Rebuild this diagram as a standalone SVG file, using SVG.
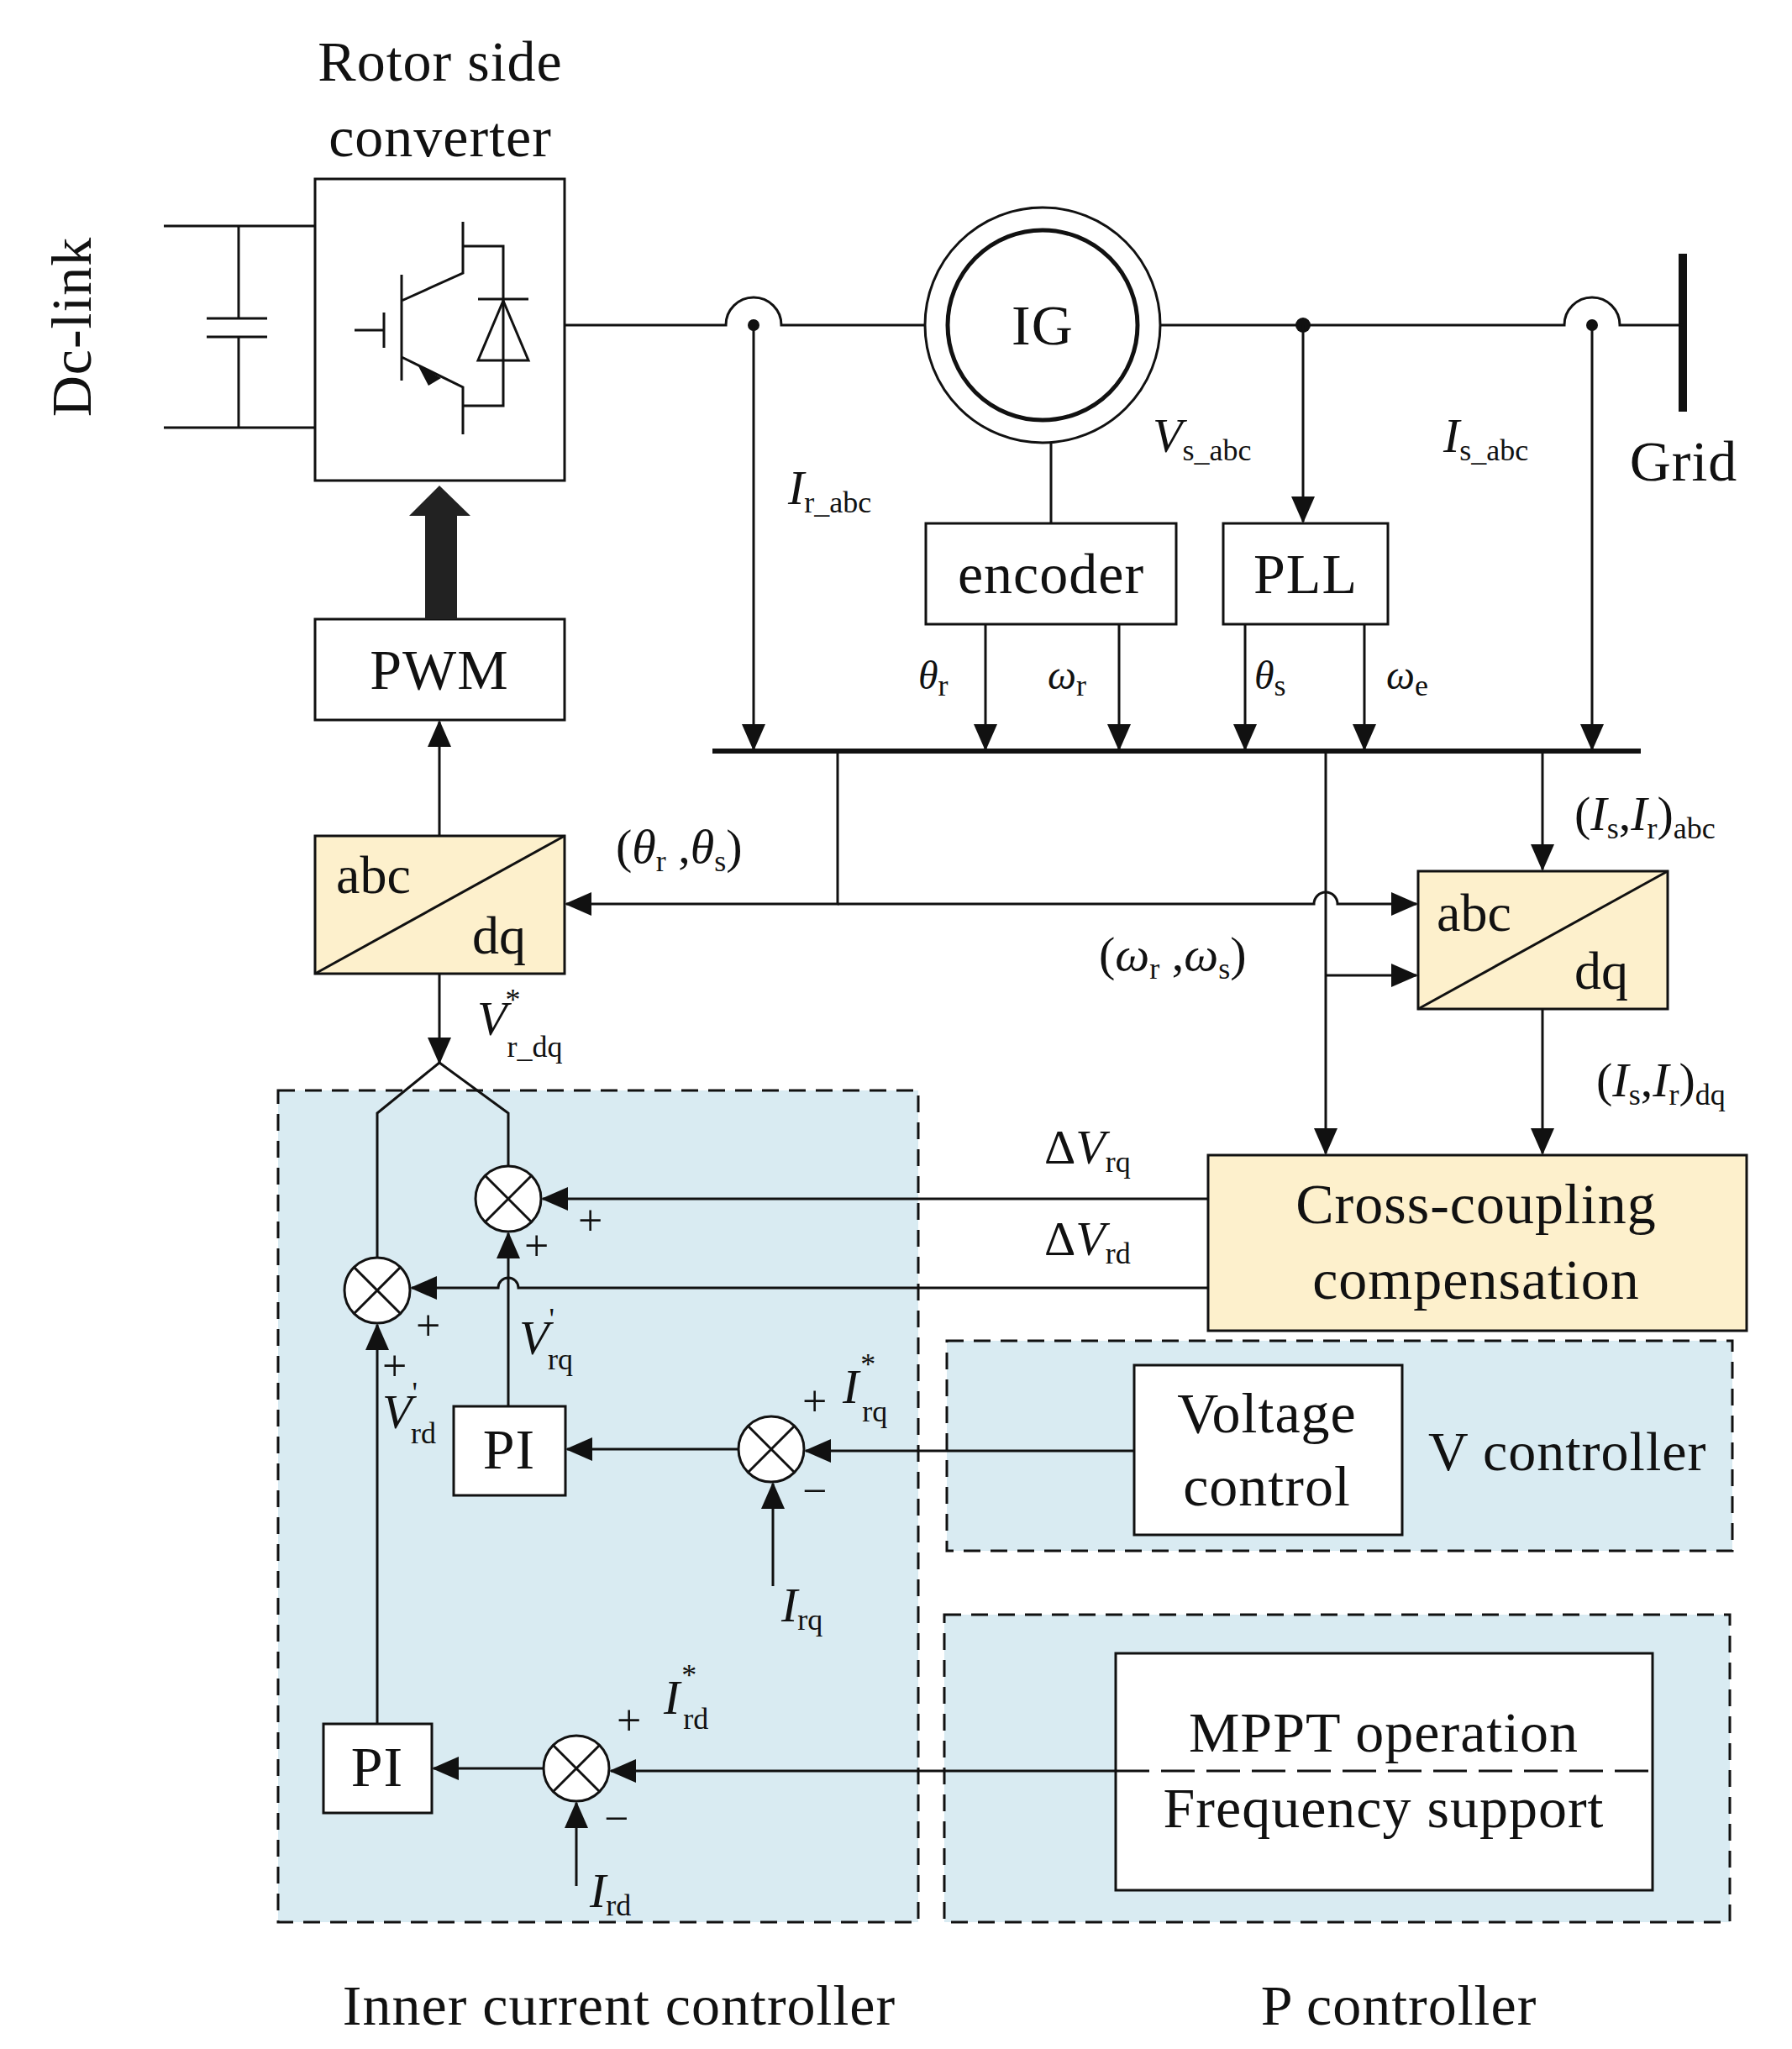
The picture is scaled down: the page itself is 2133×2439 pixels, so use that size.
<svg xmlns="http://www.w3.org/2000/svg" width="2133" height="2439" viewBox="0 0 2133 2439">
<style>
text{font-family:"Liberation Serif","Times New Roman",serif;fill:#111}
.t{font-size:68px;text-anchor:middle;letter-spacing:1px}
.l{font-size:58px}
.s{font-size:36px}
.i{font-style:italic}
.ln{fill:none;stroke:#111;stroke-width:3}
.bx{fill:#fff;stroke:#111;stroke-width:3}
.yb{fill:#fdf0cc;stroke:#111;stroke-width:3}
.dash{fill:#d9ebf2;stroke:#111;stroke-width:3;stroke-dasharray:20 12}
.a{fill:none;stroke:#111;stroke-width:3;marker-end:url(#ah)}
.pm{font-size:52px}
</style>
<defs>
<marker id="ah" markerUnits="userSpaceOnUse" markerWidth="32" markerHeight="28" refX="30" refY="14" orient="auto"><path d="M0,0 L32,14 L0,28 Z" fill="#111"/></marker>
</defs>
<rect width="2133" height="2439" fill="#fff"/>

<g id="inner-ctrl"><rect class="dash" x="331" y="1298" width="762" height="990"/></g>
<g id="v-ctrl"><rect class="dash" x="1127" y="1596" width="935" height="250"/><text x="1700" y="1750" font-size="66" letter-spacing="1">V controller</text></g>
<g id="p-ctrl"><rect class="dash" x="1124" y="1922" width="935" height="366"/></g>

<g id="dclink">
<text class="t" transform="translate(108,389) rotate(-90)">Dc-link</text>
<path class="ln" d="M195,269 H375 M195,509 H375 M284,269 V379 M284,401 V509 M246,379 H318 M246,401 H318"/>
</g>

<g id="rsc">
<text class="t" x="524" y="96">Rotor side</text>
<text class="t" x="524" y="186">converter</text>
<rect class="bx" x="375" y="213" width="297" height="359"/>
<path class="ln" d="M422,393 H457 M457,372 V414 M478,327 V453 M478,358 L551,325 V264 M478,425 L551,461 V517 M551,293 H599 V483 H551 M569,356 H629"/>
<path d="M569,429 L629,429 L599,358 Z" fill="none" stroke="#111" stroke-width="3"/>
<path d="M497,434 L525,450 L510,459 Z" fill="#111"/>
</g>

<g id="pwm"><rect class="bx" x="375" y="737" width="297" height="120"/><text class="t" x="523" y="820">PWM</text></g>
<path d="M506,737 V614 H487 L523,578 L560,614 H544 V737 Z" fill="#222"/>

<g id="abcdq-left"><rect class="yb" x="375" y="995" width="297" height="164"/><path class="ln" d="M375,1159 L672,995"/><text x="400" y="1063" font-size="64">abc</text><text x="562" y="1135" font-size="64">dq</text></g>

<g id="ig"><circle cx="1241" cy="387" r="140" fill="#fff" stroke="#111" stroke-width="3"/><circle cx="1241" cy="387" r="113" fill="#fff" stroke="#111" stroke-width="5"/><text class="t" x="1241" y="410">IG</text></g>
<g id="encoder"><rect class="bx" x="1102" y="623" width="298" height="120"/><text class="t" x="1251" y="706">encoder</text></g>
<g id="pll"><rect class="bx" x="1456" y="623" width="196" height="120"/><text class="t" x="1554" y="706">PLL</text></g>
<g id="grid"><path d="M2003,302 V490" stroke="#111" stroke-width="10"/><text class="t" x="2004" y="572">Grid</text></g>

<g id="abcdq-right"><rect class="yb" x="1688" y="1037" width="297" height="164"/><path class="ln" d="M1688,1201 L1985,1037"/><text x="1710" y="1108" font-size="64">abc</text><text x="1874" y="1177" font-size="64">dq</text></g>
<g id="ccc"><rect class="yb" x="1438" y="1375" width="641" height="209"/><text class="t" x="1757" y="1456">Cross-coupling</text><text class="t" x="1757" y="1546">compensation</text></g>
<g id="vc"><rect class="bx" x="1350" y="1625" width="319" height="202"/><text class="t" x="1508" y="1705">Voltage</text><text class="t" x="1508" y="1792">control</text></g>
<g id="mppt"><rect class="bx" x="1328" y="1968" width="639" height="282"/><path class="ln" d="M1328,2108 H1967" stroke-dasharray="40 14"/><text class="t" x="1647" y="2085">MPPT operation</text><text class="t" x="1647" y="2175">Frequency support</text></g>

<g id="sum-q"><circle cx="605" cy="1427" r="39" class="bx"/><path class="ln" d="M577,1399 L633,1455 M633,1399 L577,1455"/></g>
<g id="sum-d"><circle cx="449" cy="1536" r="39" class="bx"/><path class="ln" d="M421,1508 L477,1564 M477,1508 L421,1564"/></g>
<g id="sum-irq"><circle cx="918" cy="1725" r="39" class="bx"/><path class="ln" d="M890,1697 L946,1753 M946,1697 L890,1753"/></g>
<g id="sum-ird"><circle cx="686" cy="2105" r="39" class="bx"/><path class="ln" d="M658,2077 L714,2133 M714,2077 L658,2133"/></g>
<g id="pi-q"><rect class="bx" x="540" y="1674" width="133" height="106"/><text class="t" x="606" y="1748">PI</text></g>
<g id="pi-d"><rect class="bx" x="385" y="2052" width="129" height="106"/><text class="t" x="449" y="2126">PI</text></g>

<g id="connectors">
<path d="M848,894 H1953" stroke="#111" stroke-width="6"/>
<path class="ln" d="M672,387 H864 A33,33 0 0 1 930,387 H1101 M1381,387 H1862 A33,33 0 0 1 1928,387 H2003 M1251,527 V623"/>
<circle cx="897" cy="387" r="7" fill="#111"/><circle cx="1895" cy="387" r="7" fill="#111"/><circle cx="1551" cy="387" r="9" fill="#111"/>
<path class="a" d="M897,387 V892"/>
<path class="a" d="M1895,387 V892"/>
<path class="a" d="M1551,387 V621"/>
<path class="a" d="M1173,743 V892"/><path class="a" d="M1332,743 V892"/><path class="a" d="M1482,743 V892"/><path class="a" d="M1624,743 V892"/>
<path class="a" d="M997,894 V1076 H674"/>
<path class="a" d="M997,1076 H1564 A14,14 0 0 1 1592,1076 H1686"/>
<path class="a" d="M1578,894 V1373"/>
<path class="a" d="M1578,1161 H1686"/>
<path class="a" d="M1836,894 V1035"/>
<path class="a" d="M1836,1201 V1373"/>
<path class="a" d="M523,995 V859"/>
<path class="a" d="M523,1159 V1265"/>
<path class="ln" d="M449,1497 V1325 L523,1265 L605,1325 V1388"/>
<path class="a" d="M1438,1427 H646"/>
<path class="a" d="M1438,1533 H617 A12,12 0 0 0 593,1533 H490"/>
<path class="a" d="M605,1674 V1468"/>
<path class="a" d="M449,2052 V1577"/>
<path class="a" d="M879,1725 H675"/>
<path class="a" d="M1350,1727 H959"/>
<path class="a" d="M920,1888 V1766"/>
<path class="a" d="M647,2105 H516"/>
<path class="a" d="M1328,2108 H727"/>
<path class="a" d="M686,2245 V2146"/>
</g>

<g id="labels">
<text class="l i" x="938" y="600">I<tspan class="s" font-style="normal" dy="10">r_abc</tspan></text>
<text class="l i" x="1372" y="538">V<tspan class="s" font-style="normal" dy="10">s_abc</tspan></text>
<text class="l i" x="1718" y="538">I<tspan class="s" font-style="normal" dy="10">s_abc</tspan></text>
<text class="i" x="1093" y="820" font-size="48">θ<tspan class="s" font-style="normal" dy="8" font-size="26">r</tspan></text>
<text class="i" x="1247" y="820" font-size="48">ω<tspan class="s" font-style="normal" dy="8" font-size="26">r</tspan></text>
<text class="i" x="1493" y="820" font-size="48">θ<tspan class="s" font-style="normal" dy="8" font-size="26">s</tspan></text>
<text class="i" x="1650" y="820" font-size="48">ω<tspan class="s" font-style="normal" dy="8" font-size="26">e</tspan></text>
<text class="l" x="733" y="1027">(<tspan class="i">θ</tspan><tspan class="s" dy="10">r</tspan><tspan dy="-10"> ,</tspan><tspan class="i">θ</tspan><tspan class="s" dy="10">s</tspan><tspan dy="-10">)</tspan></text>
<text class="l" x="1874" y="988">(<tspan class="i">I</tspan><tspan class="s" dy="10">s</tspan><tspan dy="-10">,</tspan><tspan class="i">I</tspan><tspan class="s" dy="10">r</tspan><tspan dy="-10">)</tspan><tspan class="s" dy="10">abc</tspan></text>
<text class="l" x="1308" y="1155">(<tspan class="i">ω</tspan><tspan class="s" dy="10">r</tspan><tspan dy="-10"> ,</tspan><tspan class="i">ω</tspan><tspan class="s" dy="10">s</tspan><tspan dy="-10">)</tspan></text>
<text class="l" x="1900" y="1305">(<tspan class="i">I</tspan><tspan class="s" dy="10">s</tspan><tspan dy="-10">,</tspan><tspan class="i">I</tspan><tspan class="s" dy="10">r</tspan><tspan dy="-10">)</tspan><tspan class="s" dy="10">dq</tspan></text>
<text class="l" x="1243" y="1385">Δ<tspan class="i">V</tspan><tspan class="s" dy="10" font-size="30">rq</tspan></text>
<text class="l" x="1243" y="1494">Δ<tspan class="i">V</tspan><tspan class="s" dy="10" font-size="30">rd</tspan></text>
<text class="l i" x="568" y="1232" font-size="52">V<tspan class="s" font-style="normal" dx="-2" dy="-30">*</tspan><tspan class="s" font-style="normal" font-size="26" dx="-16" dy="56">r_dq</tspan></text>
<text class="l i" x="618" y="1612" font-size="50">V<tspan class="s" font-style="normal" dy="-30" font-size="26">'</tspan><tspan class="s" font-style="normal" font-size="26" dx="-8" dy="48">rq</tspan></text>
<text class="l i" x="455" y="1700" font-size="50">V<tspan class="s" font-style="normal" dy="-30" font-size="26">'</tspan><tspan class="s" font-style="normal" font-size="26" dx="-8" dy="48">rd</tspan></text>
<text class="pm" x="688" y="1470">+</text>
<text class="pm" x="624" y="1500">+</text>
<text class="pm" x="495" y="1595">+</text>
<text class="pm" x="455" y="1643">+</text>
<text class="pm" x="955" y="1685">+</text>
<text class="l i" x="1003" y="1670">I<tspan class="s" font-style="normal" dx="2" dy="-34">*</tspan><tspan class="s" font-style="normal" dx="-16" dy="56">rq</tspan></text>
<text class="pm" x="955" y="1792">−</text>
<text class="l i" x="930" y="1930">I<tspan class="s" font-style="normal" dy="10">rq</tspan></text>
<text class="pm" x="734" y="2065">+</text>
<text class="l i" x="790" y="2040">I<tspan class="s" font-style="normal" dx="2" dy="-34">*</tspan><tspan class="s" font-style="normal" font-size="28" dx="-16" dy="52">rd</tspan></text>
<text class="pm" x="719" y="2182">−</text>
<text class="l i" x="702" y="2270">I<tspan class="s" font-style="normal" dy="10">rd</tspan></text>
<text class="t" x="737" y="2410">Inner current controller</text>
<text class="t" x="1665" y="2410">P controller</text>
</g>
</svg>
